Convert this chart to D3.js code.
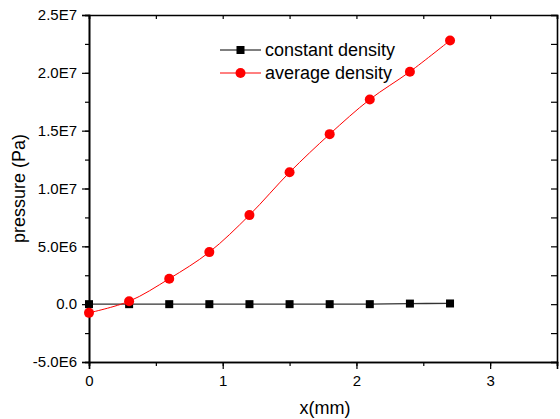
<!DOCTYPE html>
<html>
<head>
<meta charset="utf-8">
<script src="https://cdn.jsdelivr.net/npm/d3@7"></script>
<style>
  body { margin: 0; background: #fff; }
  text { font-family: "Liberation Sans", Arial, sans-serif; }
  .tick text { font-size: 15px !important; font-family: "Liberation Sans", Arial, sans-serif !important; }
</style>
</head>
<body>
<div id="idMyCanvas"></div>
<script>
let x_vals = [0, 0.3, 0.6, 0.9, 1.2, 1.5, 1.8, 2.1, 2.4, 2.7];
let constant_vals = [0, 0, 0, 0, 0, 0, 0, 0, 0.05e6, 0.06e6];
let average_vals = [-0.75e6, 0.25e6, 2.2e6, 4.5e6, 7.7e6, 11.4e6, 14.7e6, 17.7e6, 20.1e6, 22.8e6];
let x_ticks = [0, 1, 2, 3];
let y_ticks = [-5e6, 0, 5e6, 1e7, 1.5e7, 2e7, 2.5e7];
let y_tick_labels = ["-5.0E6", "0.0", "5.0E6", "1.0E7", "1.5E7", "2.0E7", "2.5E7"];
let series_names = ["constant density", "average density"];

let width = 560, height = 419;
let plot_x0 = 89, plot_x1 = 557, plot_y0 = 15, plot_y1 = 362;
let font_tick = 15; // px

let svg_obj = d3.select("#idMyCanvas")
                .append("svg")
                  .attr("width", width)
                  .attr("height", height);

let x_scale = d3.scaleLinear().domain([0, 3.5]).range([plot_x0, plot_x1]);
let y_scale = d3.scaleLinear().domain([-5e6, 2.5e7]).range([plot_y1, plot_y0]);

let x_minor = d3.range(0, 3.51, 0.5);
let y_minor = d3.range(-5e6, 2.51e7, 2.5e6);

// Axes
// -------------------
let axis_style = g => {
   g.attr("font-size", font_tick).attr("font-family", "Liberation Sans, Arial, sans-serif");
   g.selectAll("path").attr("stroke", "#000").attr("stroke-width", 1.6);
   g.selectAll("line").attr("stroke", "#000").attr("stroke-width", 1.2);
   g.selectAll("text").attr("font-size", font_tick).attr("fill", "#000");
};

// bottom minor + major
svg_obj.append("g")
   .attr("transform", `translate(0,${plot_y1})`)
   .call(d3.axisBottom(x_scale).tickValues(x_minor).tickSize(4).tickFormat(""))
   .call(axis_style);
svg_obj.append("g")
   .attr("transform", `translate(0,${plot_y1})`)
   .call(d3.axisBottom(x_scale).tickValues(x_ticks).tickSize(7).tickPadding(6).tickFormat(d3.format("d")))
   .call(axis_style);

// top (inward)
svg_obj.append("g")
   .attr("transform", `translate(0,${plot_y0})`)
   .call(d3.axisBottom(x_scale).tickValues(x_minor).tickSize(4).tickFormat(""))
   .call(axis_style);

// left minor + major
svg_obj.append("g")
   .attr("transform", `translate(${plot_x0},0)`)
   .call(d3.axisLeft(y_scale).tickValues(y_minor).tickSize(4).tickFormat(""))
   .call(axis_style);
svg_obj.append("g")
   .attr("transform", `translate(${plot_x0},0)`)
   .call(d3.axisLeft(y_scale).tickValues(y_ticks).tickSize(7).tickPadding(5)
         .tickFormat((d, i) => y_tick_labels[i]))
   .call(axis_style);

// right (inward)
svg_obj.append("g")
   .attr("transform", `translate(${plot_x1},0)`)
   .call(d3.axisLeft(y_scale).tickValues(y_minor).tickSize(6).tickFormat(""))
   .call(axis_style);
// -------------------


// Axis titles
// -------------------
svg_obj.append("text")
   .attr("x", (plot_x0 + plot_x1) / 2 + 2)
   .attr("y", 414)
   .attr("text-anchor", "middle")
   .attr("font-size", 18)
   .text("x(mm)");

svg_obj.append("text")
   .attr("transform", `translate(25,${(plot_y0 + plot_y1) / 2}) rotate(-90)`)
   .attr("text-anchor", "middle")
   .attr("font-size", 18)
   .text("pressure (Pa)");
// -------------------


// Series
// -------------------
let line_gen = d3.line()
   .x((d, i) => x_scale(x_vals[i]))
   .y(d => y_scale(d))
   .curve(d3.curveCatmullRom);

svg_obj.append("path")
   .attr("d", line_gen(constant_vals))
   .attr("fill", "none")
   .attr("stroke", "#333")
   .attr("stroke-width", 1.3);

svg_obj.append("path")
   .attr("d", line_gen(average_vals))
   .attr("fill", "none")
   .attr("stroke", "#ff0000")
   .attr("stroke-width", 1);

svg_obj.selectAll(".sq")
   .data(constant_vals)
   .enter().append("rect")
   .attr("x", (d, i) => x_scale(x_vals[i]) - 4)
   .attr("y", d => y_scale(d) - 4)
   .attr("width", 8).attr("height", 8)
   .attr("fill", "#000");

svg_obj.selectAll(".ci")
   .data(average_vals)
   .enter().append("circle")
   .attr("cx", (d, i) => x_scale(x_vals[i]))
   .attr("cy", d => y_scale(d))
   .attr("r", 5)
   .attr("fill", "#ff0000");
// -------------------


// Legend
// -------------------
let legend_items = [
   { name: series_names[0], color: "#000", shape: "square", y: 50 },
   { name: series_names[1], color: "#ff0000", shape: "circle", y: 73 }
];
legend_items.forEach(item => {
   svg_obj.append("line")
      .attr("x1", 220).attr("x2", 261)
      .attr("y1", item.y).attr("y2", item.y)
      .attr("stroke", item.color).attr("stroke-width", 1);
   if (item.shape === "square") {
      svg_obj.append("rect")
         .attr("x", 236.5).attr("y", item.y - 4)
         .attr("width", 8).attr("height", 8)
         .attr("fill", item.color);
   } else {
      svg_obj.append("circle")
         .attr("cx", 240.5).attr("cy", item.y)
         .attr("r", 5).attr("fill", item.color);
   }
   svg_obj.append("text")
      .attr("x", 265).attr("y", item.y + 6)
      .attr("font-size", 18)
      .text(item.name);
});
// -------------------
</script>
</body>
</html>
